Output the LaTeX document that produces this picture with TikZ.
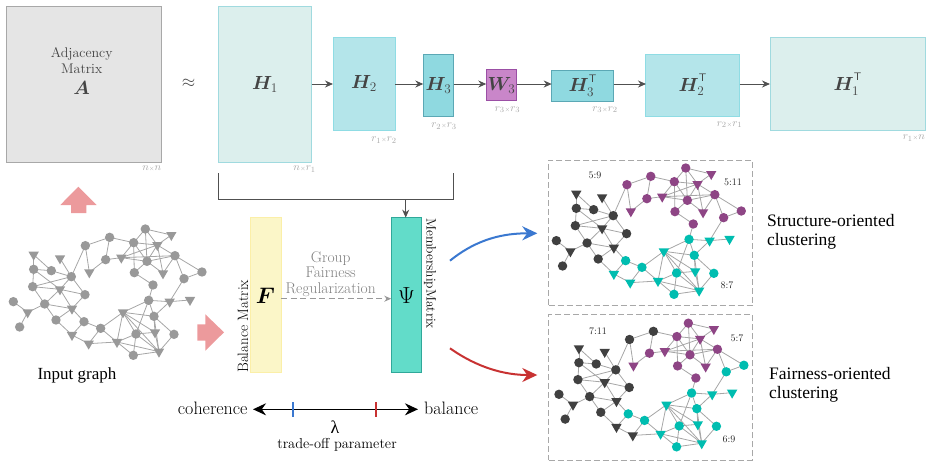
\documentclass[tikz,border=0pt]{standalone}
\usepackage{amsmath,bm}
\usepackage{fontspec}
\newfontfamily\timesf{Liberation Serif}
\usetikzlibrary{arrows.meta,shapes.geometric}
\pgfdeclarelayer{edgelayer}
\pgfsetlayers{edgelayer,main}
\definecolor{gGray}{HTML}{999999}
\definecolor{gDark}{HTML}{404040}
\definecolor{gPurple}{HTML}{8E4585}
\definecolor{gTeal}{HTML}{00BDB0}
\definecolor{edgeGray}{HTML}{A6A6A6}
\definecolor{txtDark}{HTML}{444444}
\definecolor{dimGray}{HTML}{A8A8A8}
\definecolor{lineDark}{HTML}{505050}
\definecolor{pinkArrow}{HTML}{EC9A9C}
\definecolor{h1line}{HTML}{A0DADF}
\definecolor{h1fill}{HTML}{DCEFED}
\definecolor{h2line}{HTML}{8FDCE4}
\definecolor{h2fill}{HTML}{B4E5EA}
\definecolor{h3line}{HTML}{5BA8B5}
\definecolor{h3fill}{HTML}{8FD9E0}
\definecolor{w3line}{HTML}{9B4FA5}
\definecolor{w3fill}{HTML}{C986C9}
\definecolor{fline}{HTML}{FBEFA8}
\definecolor{ffill}{HTML}{FBF6C8}
\definecolor{psiline}{HTML}{30A89A}
\definecolor{psifill}{HTML}{62DCC9}
\definecolor{tickBlue}{HTML}{3A78D0}
\definecolor{tickRed}{HTML}{C83232}
\newcommand{\fsz}[1]{\fontsize{#1}{#1}\selectfont}
\newcommand{\dimlab}[2]{$#1\mbox{\fontsize{6}{6}\selectfont$\times$}#2$}
\newcommand{\msym}[2][1.1]{\scalebox{#1}{\fsz{17.28}$#2$}}
\newcommand{\tsup}{\raisebox{2.5pt}{$\scriptscriptstyle\mathsf{T}$}}
\tikzset{
  circ/.style={circle,inner sep=0pt,minimum size=9.4pt},
  tri/.style={regular polygon,regular polygon sides=3,shape border rotate=180,inner sep=0pt,minimum size=12pt},
  gedge/.style={draw=edgeGray,line width=0.8pt},
  mbox/.style={rectangle,inner sep=0pt,outer sep=0pt,line width=1pt,text=txtDark},
  dimnode/.style={inner sep=0pt,text=dimGray,font=\fsz{10.95}},
  flowarrow/.style={draw=lineDark,line width=1pt,-{Stealth[length=8pt,width=7pt]}},
  clusterbox/.style={draw=dimGray,line width=1pt,dash pattern=on 6pt off 3pt},
  ratio/.style={inner sep=0pt,font=\fsz{10},text=black!85},
  side/.style={inner sep=0pt,font=\timesf\fsz{17.5},anchor=west},
  bigcurve/.style={line width=2pt},
}
\newcommand{\gnodes}{a1/40/365/circ/cD,a2/59/441/circ/cD,a3/83/397/tri/cD,a4/101/268/circ/cD,a5/98/320/circ/cD,a6/134/372/circ/cD,a7/154/272/circ/cD,a8/214/290/circ/cD,a9/255/344/circ/cD,a10/168/420/circ/cD,a11/252/425/circ/cX,a12/302/445/circ/cX,t1/101/224/tri/cD,t2/180/235/tri/cD,t3/180/328/tri/cD,t4/216/386/tri/cD,t5/216/465/tri/cY,t6/266/491/tri/cY,t7/351/486/tri/cX,b1/256/197/circ/cZ,b2/329/172/circ/cZ,b3/317/239/circ/cP,b4/268/277/tri/cP,b5/364/233/tri/cP,b6/401/188/circ/cP,b7/436/147/circ/cP,b8/514/165/tri/cP,b9/472/195/tri/cP,b10/441/244/circ/cP,b11/525/227/circ/cP,b12/403/278/circ/cP,b13/489/280/tri/cP,b14/459/315/circ/cP,b15/552/296/circ/cQ,b16/606/276/circ/cQ,c1/446/361/circ/cX,c2/509/365/tri/cX,c3/570/360/tri/cX,c4/462/409/circ/cX,c5/369/397/tri/cX,c6/408/462/circ/cX,c7/465/457/tri/cX,c8/522/463/circ/cX,c9/477/515/tri/cX,c10/400/526/circ/cX}
\newcommand{\gedges}{a1/a3,a2/a3,a3/a6,a6/a5,a5/a4,a4/t1,t1/a7,a4/a7,a7/a8,t2/a8,a5/a8,a4/t3,a5/t3,a6/t3,a8/t3,t3/a9,a8/a9,t3/t4,a6/t4,a9/t4,a6/a10,a10/t5,a10/t4,t4/a11,a11/t5,a11/a12,t5/t6,t6/a12,t6/t7,a12/t7,a12/c5,a8/b1,b1/b2,b1/b4,b4/b3,b3/b2,b3/b5,b2/b6,b5/b6,b6/b7,b6/b9,b6/b10,b7/b8,b7/b9,b7/b10,b9/b8,b5/b9,b5/b10,b5/b11,b9/b10,b9/b11,b9/b13,b10/b11,b10/b13,b10/b12,b6/b12,b12/b14,b11/b13,b11/b15,b11/b16,b15/b16,b15/c2,b14/c1,c1/c2,c2/c3,c2/c4,c1/c5,c1/c4,c1/c6,c5/c4,c5/c6,c5/c7,c5/c9,c5/t7,c4/c7,c4/c9,c4/c8,c8/c9,c6/c7,c6/t7,c6/c9,c6/c10,c7/c9,t7/c9,t7/c10,c10/c9}
\newcommand{\drawnet}{%
  \foreach \nn/\nx/\ny/\ns/\nc in \gnodes {\node[\ns,\nc] (\nn) at (\nx,\ny) {};}
  \begin{pgfonlayer}{edgelayer}
    \foreach \ea/\eb in \gedges {\draw[gedge] (\ea.center) -- (\eb.center);}
  \end{pgfonlayer}}
\begin{document}
\begin{tikzpicture}[x=1pt,y=-1pt]
\useasboundingbox (0,0) rectangle (932,467);
% top row
\node[mbox,draw=dimGray,fill=black!10,minimum width=155.4pt,minimum height=155.5pt] (A) at (84,84.25) {};
\node[inner sep=0pt,text=txtDark,font=\fsz{14},align=center] (Atxt) at (81.7,60.5) {Adjacency\\[2pt]Matrix};
\node[inner sep=0pt,text=txtDark] (Asym) at (81.7,88) {\msym{\bm{A}}};
\node[dimnode,anchor=east] (Adim) at (161.5,169) {\dimlab{n}{n}};
\node[inner sep=0pt,font=\fsz{17.28},text=black!70] (approx) at (188.5,83) {$\approx$};
\node[mbox,draw=h1line,fill=h1fill,minimum width=93pt,minimum height=155.5pt] (H1) at (265,84.25) {\msym{\bm{H}_1}};
\node[mbox,draw=h2line,fill=h2fill,minimum width=62pt,minimum height=92.5pt] (H2) at (364,83.75) {\msym{\bm{H}_2}};
\node[mbox,draw=h3line,fill=h3fill,minimum width=30.4pt,minimum height=61.6pt] (H3) at (438.5,85.5) {\msym{\bm{H}_3}};
\node[mbox,draw=w3line,fill=w3fill,minimum width=30.4pt,minimum height=31pt] (W3) at (501.5,85.2) {\msym{\bm{W}_3}};
\node[mbox,draw=h3line,fill=h3fill,minimum width=62pt,minimum height=31pt] (H3T) at (582.7,85.5) {\msym{\bm{H}_3^{\tsup}}};
\node[mbox,draw=h2line,fill=h2fill,minimum width=93.7pt,minimum height=62pt] (H2T) at (692.8,85) {\msym{\bm{H}_2^{\tsup}}};
\node[mbox,draw=h1line,fill=h1fill,minimum width=155.3pt,minimum height=93pt] (H1T) at (847.7,84.2) {\msym{\bm{H}_1^{\tsup}}};
\node[dimnode] (d1) at (304.5,169) {\dimlab{n}{r_1}};
\node[dimnode] (d2) at (384,140) {\dimlab{r_1}{r_2}};
\node[dimnode] (d3) at (444,126) {\dimlab{r_2}{r_3}};
\node[dimnode] (d4) at (507.5,109.5) {\dimlab{r_3}{r_3}};
\node[dimnode] (d5) at (605,109.5) {\dimlab{r_3}{r_2}};
\node[dimnode] (d6) at (729.5,124.5) {\dimlab{r_2}{r_1}};
\node[dimnode] (d7) at (914,138) {\dimlab{r_1}{n}};
\coordinate (m1) at (311.5,84); \coordinate (m2) at (333,84);
\coordinate (m3) at (395,84); \coordinate (m4) at (423.3,84);
\coordinate (m5) at (453.7,84); \coordinate (m6) at (486.3,84);
\coordinate (m7) at (516.7,84); \coordinate (m8) at (551.7,84);
\coordinate (m9) at (613.7,84); \coordinate (m10) at (646,84);
\coordinate (m11) at (739.7,84); \coordinate (m12) at (770,84);
\draw[flowarrow] (m1) -- (m2);
\draw[flowarrow] (m3) -- (m4);
\draw[flowarrow] (m5) -- (m6);
\draw[flowarrow] (m7) -- (m8);
\draw[flowarrow] (m9) -- (m10);
\draw[flowarrow] (m11) -- (m12);
% bracket
\coordinate (br1) at (218.5,173); \coordinate (br2) at (453.3,173);
\coordinate (br3) at (405.7,199);
\draw[draw=lineDark,line width=1pt] (br1) |- (br2 |- br3) -- (br2);
% middle
\node[mbox,draw=fline,fill=ffill,minimum width=31pt,minimum height=155.3pt,text=black] (F) at (265.5,295.3) {\msym[1.3]{\bm{F}}};
\node[mbox,draw=psiline,fill=psifill,minimum width=30.7pt,minimum height=155.3pt,text=black] (Psi) at (406.6,295.3) {\msym[1.35]{\Psi}};
\draw[flowarrow] (br3) -- (br3 |- Psi.north);
\node[inner sep=0pt,rotate=90,anchor=west,font=\fsz{15}] (balm) at (243,373) {Balance Matrix};
\node[inner sep=0pt,rotate=-90,anchor=west,font=\fsz{13.5}] (memm) at (430,218) {MembershipMatrix};
\node[inner sep=0pt,align=center,text=black!50,font=\fsz{15.5}] (gfr) at (330.7,274) {Group\\Fairness\\Regularization};
\draw[draw=gGray,line width=1pt,dash pattern=on 6pt off 3.5pt,-{Stealth[length=7pt,width=6pt]}] (F.east |- 0,298.7) -- (Psi.west |- 0,298.7);
% pink arrows
\fill[pinkArrow] (78.3,186.7) -- (96.7,205) -- (86.3,205) -- (86.3,213) -- (71,213) -- (71,205) -- (60.3,205) -- cycle;
\fill[pinkArrow] (224,332.3) -- (205.3,350.7) -- (205.3,340.7) -- (197.3,340.7) -- (197.3,324.3) -- (205.3,324.3) -- (205.3,314.3) -- cycle;
% input graph
\begin{scope}[shift={(0,180)},xscale=0.3333,yscale=0.3333,name prefix=g0-,
  cD/.style={fill=gGray},cX/.style={fill=gGray},cY/.style={fill=gGray},cZ/.style={fill=gGray},cP/.style={fill=gPurple!0!gGray},cQ/.style={fill=gGray}]
\drawnet
\end{scope}
\node[inner sep=0pt,font=\timesf\fsz{17}] (inp) at (77,375) {Input graph};
% lambda
\node[inner sep=0pt,anchor=east,font=\fsz{18}] (coh) at (247.7,408.5) {coherence};
\node[inner sep=0pt,anchor=west,font=\fsz{18}] (bal) at (424,408.5) {balance};
\coordinate (l1) at (253,409.3); \coordinate (l2) at (418,409.3);
\draw[black,line width=1.5pt,{Stealth[length=13pt,width=12pt]}-{Stealth[length=13pt,width=12pt]}] (l1) -- (l2);
\draw[draw=tickBlue,line width=2pt] (293.3,402) -- (293.3,417);
\draw[draw=tickRed,line width=2pt] (376,402) -- (376,417);
\node[inner sep=0pt,font=\timesf\fsz{18}] (lam) at (335,427) {λ};
\node[inner sep=0pt,font=\fsz{14.4}] (tradeoff) at (337,445) {trade-off parameter};
% curves
\coordinate (cs1) at (450,260.7); \coordinate (ce1) at (537.3,233.3);
\coordinate (cs2) at (450,348.3); \coordinate (ce2) at (537.3,375);
\draw[bigcurve,draw=tickBlue,-{Stealth[length=15pt,width=14pt]}] (cs1) .. controls (478,238) and (505,233.3) .. (ce1);
\draw[bigcurve,draw=tickRed,-{Stealth[length=15pt,width=14pt]}] (cs2) .. controls (478,368) and (505,375) .. (ce2);
% clusters
\node[clusterbox,rectangle,inner sep=0pt,minimum width=204pt,minimum height=145.7pt] (box1) at (650.7,232.85) {};
\node[clusterbox,rectangle,inner sep=0pt,minimum width=203.3pt,minimum height=145.7pt] (box2) at (650.35,387.15) {};
\begin{scope}[shift={(543.3,119)},xscale=0.3267,yscale=0.3333,name prefix=g1-,
  cD/.style={fill=gDark},cX/.style={fill=gTeal},cY/.style={fill=gTeal},cZ/.style={fill=gPurple},cP/.style={fill=gPurple},cQ/.style={fill=gPurple}]
\drawnet
\end{scope}
\begin{scope}[shift={(545.9,275.2)},xscale=0.3267,yscale=0.3263,name prefix=g2-,
  cD/.style={fill=gDark},cX/.style={fill=gTeal},cY/.style={fill=gDark},cZ/.style={fill=gDark},cP/.style={fill=gPurple},cQ/.style={fill=gTeal}]
\drawnet
\end{scope}
\node[ratio] (r1) at (595,175.7) {5:9};
\node[ratio] (r2) at (733,182) {5:11};
\node[ratio] (r3) at (727,285.7) {8:7};
\node[ratio] (r4) at (598,331.7) {7:11};
\node[ratio] (r5) at (737,338) {5:7};
\node[ratio] (r6) at (729,439) {6:9};
\node[side] (s1) at (767,221) {Structure-oriented};
\node[side] (s2) at (767,241) {clustering};
\node[side] (s3) at (769,374) {Fairness-oriented};
\node[side] (s4) at (769,394.5) {clustering};
\end{tikzpicture}
\end{document}
